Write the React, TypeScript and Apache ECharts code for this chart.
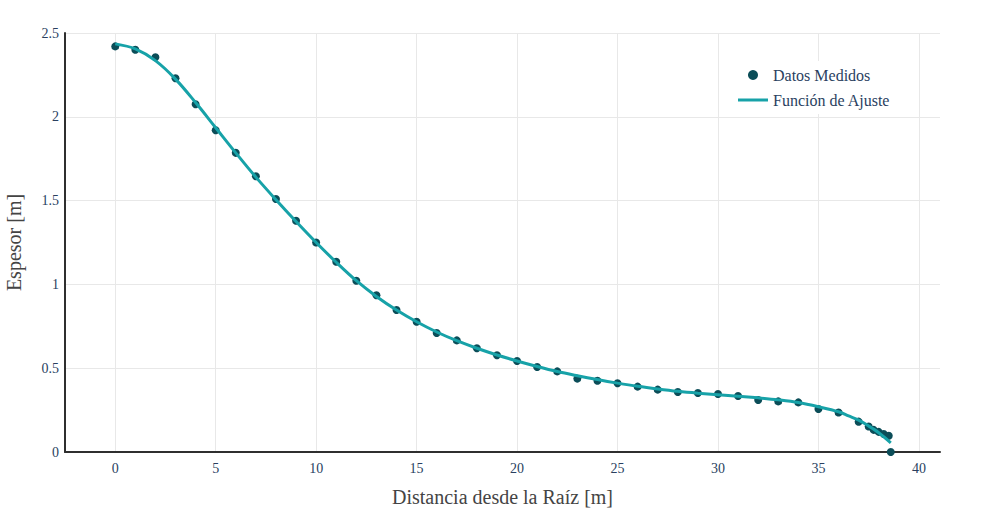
import React, { useEffect, useRef } from "react";
import * as echarts from "echarts";

const xMeasured = [0, 1, 2, 3, 4, 5, 6, 7, 8, 9, 10, 11, 12, 13, 14, 15, 16, 17, 18, 19, 20, 21, 22, 23, 24, 25, 26, 27, 28, 29, 30, 31, 32, 33, 34, 35, 36, 37, 37.5, 37.75, 38, 38.25, 38.5, 38.6];
const yMeasured = [2.42, 2.4, 2.355, 2.23, 2.075, 1.92, 1.785, 1.645, 1.51, 1.38, 1.25, 1.135, 1.022, 0.935, 0.847, 0.777, 0.71, 0.666, 0.619, 0.577, 0.543, 0.507, 0.481, 0.438, 0.425, 0.41, 0.39, 0.372, 0.358, 0.352, 0.346, 0.334, 0.31, 0.302, 0.296, 0.257, 0.236, 0.181, 0.152, 0.132, 0.12, 0.107, 0.097, 0.0];

const xFit = [0, 1, 2, 3, 4, 5, 6, 7, 8, 9, 10, 11, 12, 13, 14, 15, 16, 17, 18, 19, 20, 21, 22, 23, 24, 25, 26, 27, 28, 29, 30, 31, 32, 33, 34, 35, 36, 36.5, 37, 37.5, 38, 38.6];
const yFit = [2.435, 2.405, 2.335, 2.225, 2.085, 1.935, 1.785, 1.64, 1.505, 1.375, 1.25, 1.132, 1.022, 0.928, 0.847, 0.777, 0.716, 0.664, 0.619, 0.579, 0.543, 0.51, 0.48, 0.455, 0.432, 0.411, 0.392, 0.376, 0.362, 0.351, 0.342, 0.333, 0.323, 0.311, 0.295, 0.27, 0.24, 0.215, 0.19, 0.155, 0.115, 0.055];

const xTicks = [0, 5, 10, 15, 20, 25, 30, 35, 40];
const yTicks = [0, 0.5, 1, 1.5, 2, 2.5];

const FONT = "'Liberation Serif', 'Times New Roman', serif";
const TEXT = "#2a3f5f";
const TITLE = "#444444";
const GRID = "#e8e8e8";
const AXIS = "#2f2f2f";
const MARK = "#0b4d58";
const LINE = "#17a2a8";

export default function App() {
  const ref = useRef<HTMLDivElement>(null);
  useEffect(() => {
    if (!ref.current) return;
    const chart = echarts.init(ref.current, undefined, { renderer: "svg" });
    chart.setOption({
      animation: false,
      backgroundColor: "#ffffff",
      textStyle: { fontFamily: FONT },
      grid: { left: 65, right: 60, top: 33, bottom: 80, containLabel: false, outerBoundsMode: "none" },
      legend: {
        orient: "vertical",
        left: 733,
        top: 61,
        padding: 5,
        backgroundColor: "#ffffff",
        itemWidth: 30,
        itemHeight: 10,
        itemGap: 7,
        symbolKeepAspect: true,
        textStyle: { fontFamily: FONT, fontSize: 16, color: TEXT, lineHeight: 18 },
        data: [
          { name: "Datos Medidos", icon: "circle", itemStyle: { color: MARK } },
          { name: "Función de Ajuste", icon: "path://M0,0 H30 V3 H0 Z", itemStyle: { color: LINE } },
        ],
      },
      xAxis: {
        type: "value",
        min: -2.5,
        max: 41.05,
        name: "Distancia desde la Raíz [m]",
        nameLocation: "middle",
        nameGap: 35,
        nameTextStyle: { fontFamily: FONT, fontSize: 20, color: TITLE },
        axisLine: { show: true, onZero: false, lineStyle: { color: AXIS, width: 2 } },
        axisTick: { show: false, customValues: xTicks },
        axisLabel: { customValues: xTicks, fontFamily: FONT, fontSize: 14, color: TEXT, margin: 9 },
        splitLine: { show: true, lineStyle: { color: GRID, width: 1 } },
      },
      yAxis: {
        type: "value",
        min: 0,
        max: 2.5,
        interval: 0.5,
        name: "Espesor [m]",
        nameLocation: "middle",
        nameGap: 41,
        nameTextStyle: { fontFamily: FONT, fontSize: 20, color: TITLE },
        axisLine: { show: true, onZero: false, lineStyle: { color: AXIS, width: 2 } },
        axisTick: { show: false },
        axisLabel: {
          fontFamily: FONT,
          fontSize: 14,
          color: TEXT,
          margin: 6,
          formatter: (v: number) => (yTicks.includes(v) ? String(v) : ""),
        },
        splitLine: { show: true, lineStyle: { color: GRID, width: 1 } },
      },
      series: [
        {
          name: "Datos Medidos",
          type: "scatter",
          data: xMeasured.map((x, i) => [x, yMeasured[i]]),
          symbol: "circle",
          symbolSize: 8,
          itemStyle: { color: MARK, opacity: 1 },
          z: 2,
        },
        {
          name: "Función de Ajuste",
          type: "line",
          data: xFit.map((x, i) => [x, yFit[i]]),
          showSymbol: false,
          symbol: "none",
          smooth: 0.35,
          lineStyle: { color: LINE, width: 3 },
          itemStyle: { color: LINE },
          z: 3,
        },
      ],
    });
    return () => chart.dispose();
  }, []);
  return <div ref={ref} style={{ width: 1000, height: 532, position: "absolute", left: 0, top: 0 }} />;
}
